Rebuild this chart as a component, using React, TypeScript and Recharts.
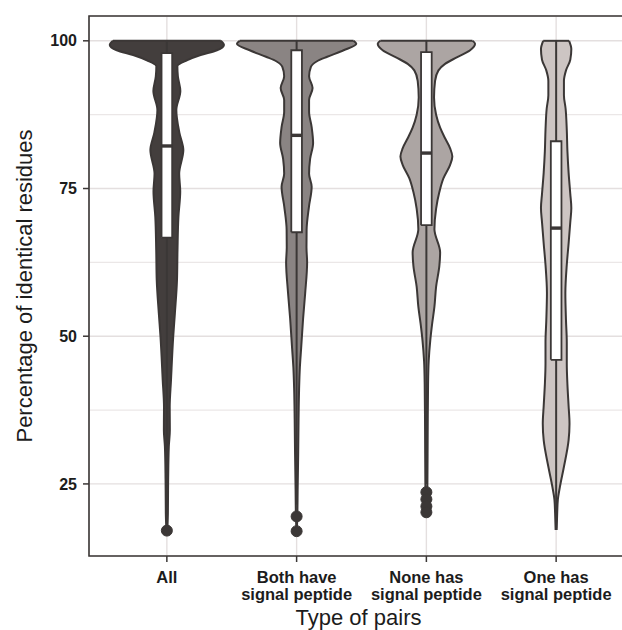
import { ComposedChart, Area, Line, XAxis, YAxis, CartesianGrid, ReferenceArea, Label } from 'recharts';

const FONT = '"Liberation Sans", Arial, Helvetica, sans-serif';
const INK = '#3b3736';
const TEXT = '#1c1c1c';

const CATEGORY_LINES = [
  ['All'],
  ['Both have', 'signal peptide'],
  ['None has', 'signal peptide'],
  ['One has', 'signal peptide'],
];
const POSITIONS = [1, 2, 3, 4];
const FILLS = ['#433e3d', '#8a8483', '#aca5a3', '#cdc5c3'];
const Y_TICKS = [25, 50, 75, 100];
const MINOR_Y = [37.5, 62.5, 87.5];

// violin outlines, bottom to top: % identical residues and half width (category units)
const ALL_PCT  = [17.3, 20, 25.7, 31.3, 34.1, 38, 42.6, 49.9, 53.9, 59.5, 64.6, 70.2, 74.5, 77.5, 81.5, 84.5, 88.3, 91.5, 94, 95.7, 96.7, 97.6, 98.4, 99.3, 100];
const ALL_HALF = [.004, .008, .010, .015, .023, .022, .032, .049, .062, .078, .082, .089, .103, .095, .127, .096, .073, .104, .085, .081, .154, .260, .386, .440, .416];

const BOTH_PCT  = [17.0, 20.2, 24, 30, 36, 41, 44.7, 48, 53, 57.3, 62.5, 65, 68, 71.9, 75.3, 77.5, 80, 82.7, 85.4, 88, 90, 92, 94, 95.6, 96.5, 97.3, 98.4, 99.5, 100];
const BOTH_HALF = [.002, .006, .008, .012, .015, .019, .025, .035, .050, .066, .081, .076, .077, .095, .116, .096, .104, .127, .116, .096, .096, .123, .096, .110, .154, .236, .362, .460, .439];

const NONE_PCT  = [19.9, 25.3, 33.3, 41.9, 45.9, 49.3, 52.2, 55, 58.4, 61.9, 64.2, 68.1, 71.6, 74.4, 76.7, 79, 80.4, 81.8, 83.5, 85.3, 87.5, 90.4, 93.2, 95, 96.1, 97.2, 98.4, 99.5, 100];
const NONE_HALF = [.004, .008, .010, .013, .018, .030, .045, .062, .075, .100, .106, .062, .075, .100, .131, .183, .200, .183, .144, .106, .075, .059, .067, .093, .144, .234, .337, .375, .355];

const ONE_PCT  = [17.2, 20, 22.3, 24.5, 27.9, 32.4, 35.2, 38.2, 41.8, 45.4, 49, 52.6, 57.3, 62.1, 65.7, 69.3, 71.7, 74.1, 77.7, 81.3, 84.9, 88.5, 90.8, 93.2, 95, 96.8, 98.6, 100];
const ONE_HALF = [.004, .008, .013, .029, .060, .096, .103, .096, .087, .082, .082, .076, .071, .082, .096, .109, .117, .109, .096, .087, .082, .073, .060, .060, .076, .109, .117, .100];

// boxplot stats
const Q1 = [66.7, 67.6, 68.8, 46.0];
const MEDIAN = [82.2, 84.0, 81.0, 68.3];
const Q3 = [97.9, 98.4, 98.1, 83.0];
const WHISKER_LOW = [20, 21.5, 25, 17.5];
const WHISKER_HIGH = [100, 100, 100, 100];

const ALL_OUT = [17.1];
const BOTH_OUT = [19.5, 17.0];
const NONE_OUT = [23.6, 22.4, 21.2, 20.2];
const ONE_OUT: number[] = [];

const BOX_HALF = 0.041;

const VIOLINS = [
  { pct: ALL_PCT, half: ALL_HALF, outliers: ALL_OUT },
  { pct: BOTH_PCT, half: BOTH_HALF, outliers: BOTH_OUT },
  { pct: NONE_PCT, half: NONE_HALF, outliers: NONE_OUT },
  { pct: ONE_PCT, half: ONE_HALF, outliers: ONE_OUT },
];

const violinRows = (pct: number[], half: number[], c: number) =>
  pct.map((p, i) => ({ p, range: [c - half[i], c + half[i]] }));

const seg = (x1: number, p1: number, x2: number, p2: number) => [
  { p: p1, x: x1 },
  { p: p2, x: x2 },
];

const XTick = ({ x, y, payload }: any) => {
  const lines = CATEGORY_LINES[payload.value - 1] ?? [];
  return (
    <text x={x} y={y} textAnchor="middle" fill={TEXT} fontSize={16.5} fontWeight={700} fontFamily={FONT}>
      {lines.map((l, i) => (
        <tspan key={l} x={x} dy={i === 0 ? 19 : 17}>{l}</tspan>
      ))}
    </text>
  );
};

const XTitle = ({ viewBox }: any) => (
  <text
    x={viewBox.x + viewBox.width / 2 - 3}
    y={viewBox.y + viewBox.height + 9}
    textAnchor="middle"
    fill={TEXT}
    fontSize={22}
    fontFamily={FONT}>
    Type of pairs
  </text>
);

const YTitle = ({ viewBox }: any) => {
  const cx = viewBox.x - 5;
  const cy = viewBox.y + viewBox.height / 2;
  return (
    <text
      x={cx}
      y={cy}
      transform={`rotate(-90 ${cx} ${cy})`}
      textAnchor="middle"
      dominantBaseline="central"
      fill={TEXT}
      fontSize={22}
      fontFamily={FONT}>
      Percentage of identical residues
    </text>
  );
};

export default function App() {
  return (
    <div style={{ position: 'absolute', left: 0, top: 0, width: 622, height: 630, overflow: 'hidden', background: '#fff' }}>
      <ComposedChart
        width={650}
        height={630}
        layout="vertical"
        margin={{ top: 16, right: 16, bottom: 14, left: 29 }}>
        <CartesianGrid stroke="#e4dfdf" strokeWidth={1.4} />
        <CartesianGrid horizontalValues={MINOR_Y} vertical={false} stroke="#ebe7e7" strokeWidth={1.2} />
        <XAxis
          type="number"
          domain={[0.4, 4.6]}
          ticks={POSITIONS}
          allowDataOverflow
          interval={0}
          height={60}
          axisLine={false}
          tickLine={{ stroke: INK, strokeWidth: 1.5 }}
          tickSize={6}
          tick={<XTick />}>
          <Label content={<XTitle />} />
        </XAxis>
        <YAxis
          type="number"
          dataKey="p"
          domain={[12.8, 104.2]}
          reversed
          ticks={Y_TICKS}
          allowDataOverflow
          interval={0}
          width={60}
          axisLine={false}
          tickLine={{ stroke: INK, strokeWidth: 1.5 }}
          tickSize={6}
          tickMargin={6}
          tick={{ fill: TEXT, fontSize: 16, fontWeight: 700, fontFamily: FONT }}>
          <Label content={<YTitle />} />
        </YAxis>

        {VIOLINS.map((v, i) => (
          <Area
            key={`violin-${i}`}
            data={violinRows(v.pct, v.half, POSITIONS[i])}
            dataKey="range"
            type="monotone"
            fill={FILLS[i]}
            fillOpacity={1}
            stroke={INK}
            strokeWidth={2}
            isAnimationActive={false}
          />
        ))}
        {VIOLINS.map((v, i) => (
          <Area
            key={`box-${i}`}
            data={[
              { p: Q1[i], range: [POSITIONS[i] - BOX_HALF, POSITIONS[i] + BOX_HALF] },
              { p: Q3[i], range: [POSITIONS[i] - BOX_HALF, POSITIONS[i] + BOX_HALF] },
            ]}
            dataKey="range"
            type="linear"
            fill="#ffffff"
            fillOpacity={1}
            stroke="none"
            isAnimationActive={false}
          />
        ))}

        {/* flat top edge of each trimmed violin */}
        {VIOLINS.map((v, i) => {
          const h = v.half[v.half.length - 1];
          const top = v.pct[v.pct.length - 1];
          return (
            <Line key={`top-${i}`} data={seg(POSITIONS[i] - h, top, POSITIONS[i] + h, top)} dataKey="x"
              type="linear" stroke={INK} strokeWidth={2} dot={false} isAnimationActive={false} />
          );
        })}
        {/* whiskers */}
        {POSITIONS.map((c, i) => (
          <Line key={`wl-${i}`} data={seg(c, WHISKER_LOW[i], c, Q1[i])} dataKey="x"
            type="linear" stroke={INK} strokeWidth={2} dot={false} isAnimationActive={false} />
        ))}
        {POSITIONS.map((c, i) => (
          <Line key={`wh-${i}`} data={seg(c, Q3[i], c, WHISKER_HIGH[i])} dataKey="x"
            type="linear" stroke={INK} strokeWidth={2} dot={false} isAnimationActive={false} />
        ))}
        {/* box borders */}
        {POSITIONS.map((c, i) => (
          <Line key={`bb-${i}`}
            data={[
              { p: Q1[i], x: c - BOX_HALF },
              { p: Q1[i], x: c + BOX_HALF },
              { p: Q3[i], x: c + BOX_HALF },
              { p: Q3[i], x: c - BOX_HALF },
              { p: Q1[i], x: c - BOX_HALF },
            ]}
            dataKey="x" type="linear" stroke={INK} strokeWidth={1.8} dot={false} isAnimationActive={false} />
        ))}
        {/* medians */}
        {POSITIONS.map((c, i) => (
          <Line key={`md-${i}`} data={seg(c - BOX_HALF, MEDIAN[i], c + BOX_HALF, MEDIAN[i])} dataKey="x"
            type="linear" stroke={INK} strokeWidth={3.4} dot={false} isAnimationActive={false} />
        ))}
        {/* outliers */}
        {VIOLINS.map((v, i) => (
          <Line key={`out-${i}`} data={v.outliers.map((p) => ({ p, x: POSITIONS[i] }))} dataKey="x"
            stroke="none" dot={{ r: 5.5, fill: INK, stroke: INK, strokeWidth: 1 }} isAnimationActive={false} />
        ))}

        <ReferenceArea x1={0.4} x2={4.6} y1={12.8} y2={104.2} fill="none" stroke={INK} strokeWidth={1.6} ifOverflow="visible" />
      </ComposedChart>
    </div>
  );
}
